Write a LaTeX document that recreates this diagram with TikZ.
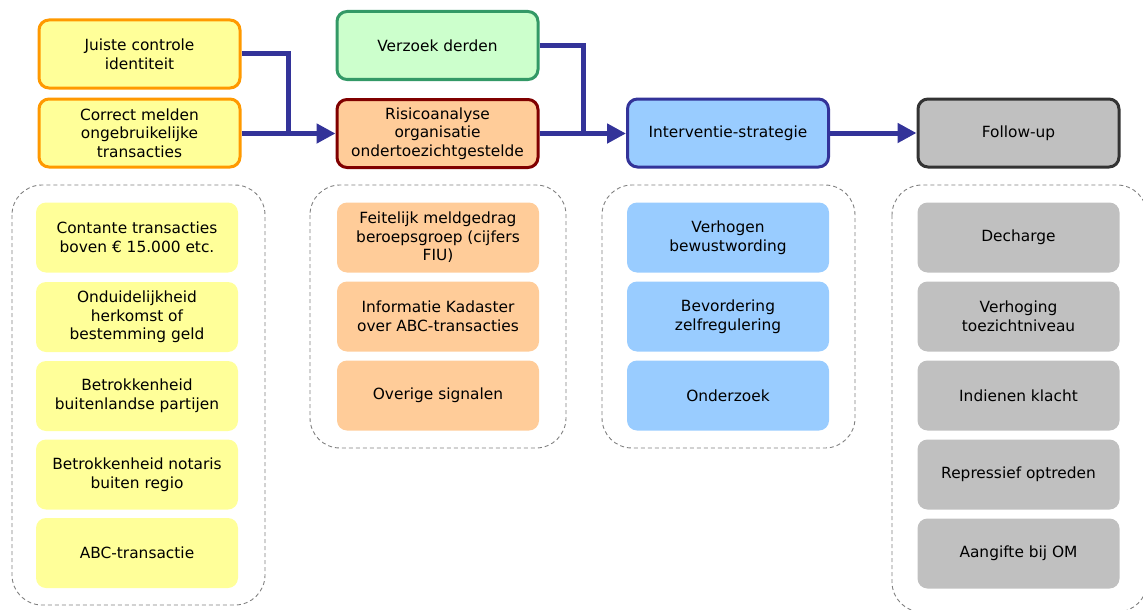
\documentclass[tikz,border=0pt]{standalone}
\usepackage{fontspec}
\setmainfont{DejaVu Sans}
\usetikzlibrary{arrows.meta}
\definecolor{yfill}{HTML}{FFFF99}
\definecolor{yline}{HTML}{FF9900}
\definecolor{gfill}{HTML}{CCFFCC}
\definecolor{gline}{HTML}{339966}
\definecolor{ofill}{HTML}{FFCC99}
\definecolor{rline}{HTML}{800000}
\definecolor{bfill}{HTML}{99CCFF}
\definecolor{bline}{HTML}{333399}
\definecolor{grfill}{HTML}{C0C0C0}
\definecolor{grline}{HTML}{333333}
\definecolor{dashc}{HTML}{808080}
\begin{document}
\begin{tikzpicture}[x=1pt,y=-1pt,
  txt/.style={align=center,font=\fontsize{15.4}{18.6}\selectfont,text=black,inner sep=0pt},
  topbox/.style={txt,rounded corners=10pt,line width=3pt,minimum width=201pt,minimum height=68pt,draw},
  subbox/.style={txt,rounded corners=10pt,minimum width=202pt,minimum height=70pt},
  group/.style={draw=dashc,line width=0.9pt,dash pattern=on 4pt off 3pt,rounded corners=30pt},
  conn/.style={draw=bline,line width=5pt,line join=miter},
  arr/.style={conn,-{Triangle[length=19pt,width=19pt]}}]
\clip (0,0) rectangle (1143,610);
\path[use as bounding box] (0,0) rectangle (1143,610);
% groups
\draw[group] (12,185) rectangle (265,605);
\draw[group] (310,185) rectangle (566,448);
\draw[group] (602,185) rectangle (855,448);
\draw[group] (892,185) rectangle (1147,612);
% top row
\node[topbox,fill=yfill,draw=yline] (juiste) at (139.5,54) {Juiste controle\\identiteit};
\node[topbox,fill=yfill,draw=yline] (correct) at (139.5,133) {Correct melden\\ongebruikelijke\\transacties};
\node[topbox,fill=gfill,draw=gline] (verzoek) at (437.5,45.5) {Verzoek derden};
\node[topbox,fill=ofill,draw=rline] (risico) at (437.5,133.5) {Risicoanalyse\\organisatie\\ondertoezichtgestelde};
\node[topbox,fill=bfill,draw=bline] (interv) at (728,133) {Interventie-strategie};
\node[topbox,fill=grfill,draw=grline] (follow) at (1018.5,133) {Follow-up};
% connectors
\coordinate (m1) at (288,133);
\coordinate (m2) at (583,133);
\draw[conn] (juiste.east) -| (m1);
\draw[arr] (correct.east |- risico.west) -- (risico.west);
\draw[conn] (verzoek.east) -| (m2);
\draw[arr] (risico.east) -- (interv.west |- risico.east);
\draw[arr] (interv.east) -- (follow.west);
% left items
\node[subbox,fill=yfill] (y1) at (137,237.5) {Contante transacties\\boven € 15.000 etc.};
\node[subbox,fill=yfill] (y2) at (137,317) {Onduidelijkheid\\herkomst of\\bestemming geld};
\node[subbox,fill=yfill] (y3) at (137,396) {Betrokkenheid\\buitenlandse partijen};
\node[subbox,fill=yfill] (y4) at (137,474.5) {Betrokkenheid notaris\\buiten regio};
\node[subbox,fill=yfill] (y5) at (137,553) {ABC-transactie};
% middle items
\node[subbox,fill=ofill] (o1) at (438,237.5) {Feitelijk meldgedrag\\beroepsgroep (cijfers\\FIU)};
\node[subbox,fill=ofill] (o2) at (438,316.5) {Informatie Kadaster\\over ABC-transacties};
\node[subbox,fill=ofill] (o3) at (438,395.5) {Overige signalen};
% blue items
\node[subbox,fill=bfill] (b1) at (728,237.5) {Verhogen\\bewustwording};
\node[subbox,fill=bfill] (b2) at (728,316.5) {Bevordering\\zelfregulering};
\node[subbox,fill=bfill] (b3) at (728,395.5) {Onderzoek};
% gray items
\node[subbox,fill=grfill] (g1) at (1018.5,237.5) {Decharge};
\node[subbox,fill=grfill] (g2) at (1018.5,316.5) {Verhoging\\toezichtniveau};
\node[subbox,fill=grfill] (g3) at (1018.5,395.5) {Indienen klacht};
\node[subbox,fill=grfill] (g4) at (1018.5,474.5) {Repressief optreden};
\node[subbox,fill=grfill] (g5) at (1018.5,553.5) {Aangifte bij OM};
\end{tikzpicture}
\end{document}
